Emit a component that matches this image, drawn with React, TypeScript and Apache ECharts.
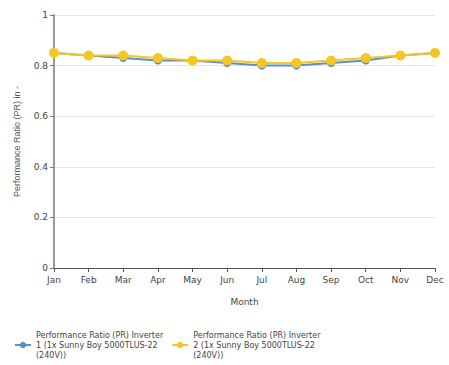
import React, { useEffect, useRef } from "react";
import * as echarts from "echarts";

const months = ["Jan", "Feb", "Mar", "Apr", "May", "Jun", "Jul", "Aug", "Sep", "Oct", "Nov", "Dec"];
const inverter1 = [0.85, 0.84, 0.83, 0.82, 0.82, 0.81, 0.8, 0.8, 0.81, 0.82, 0.84, 0.85];
const inverter2 = [0.85, 0.84, 0.84, 0.83, 0.82, 0.82, 0.81, 0.81, 0.82, 0.83, 0.84, 0.85];
const seriesNames = [
  "Performance Ratio (PR) Inverter\n1 (1x Sunny Boy 5000TLUS-22\n(240V))",
  "Performance Ratio (PR) Inverter\n2 (1x Sunny Boy 5000TLUS-22\n(240V))",
];

const FONT = "DejaVu Sans";

export default function App() {
  const ref = useRef<HTMLDivElement>(null);
  useEffect(() => {
    const chart = echarts.init(ref.current!, null, { renderer: "svg" });
    chart.setOption({
      animation: false,
      grid: { left: 54, right: 14, top: 15, bottom: 97 },
      legend: {
        left: 14,
        top: 330,
        padding: 0,
        itemWidth: 16,
        itemHeight: 8,
        itemGap: 8,
        textStyle: { fontFamily: FONT, fontSize: 8, color: "#444", lineHeight: 10 },
        data: seriesNames,
      },
      xAxis: {
        type: "category",
        data: months,
        boundaryGap: false,
        name: "Month",
        nameLocation: "middle",
        nameGap: 29,
        nameTextStyle: { fontFamily: FONT, fontSize: 9, color: "#444" },
        axisLine: { lineStyle: { color: "#555", width: 1 } },
        axisTick: { show: true, length: 4, alignWithLabel: true, lineStyle: { color: "#555" } },
        axisLabel: { fontFamily: FONT, fontSize: 9, color: "#444", margin: 7, interval: 0 },
      },
      yAxis: {
        type: "value",
        min: 0,
        max: 1,
        interval: 0.2,
        name: "Performance Ratio (PR) in -",
        nameLocation: "middle",
        nameGap: 33,
        nameTextStyle: { fontFamily: "Liberation Sans", fontSize: 9, color: "#555" },
        axisLine: { show: true, lineStyle: { color: "#999", width: 2 } },
        axisTick: { show: true, length: 4, lineStyle: { color: "#777" } },
        axisLabel: { fontFamily: FONT, fontSize: 9, color: "#444", margin: 6 },
        splitLine: { lineStyle: { color: "#e4e4e4" } },
      },
      series: [
        {
          name: seriesNames[0],
          type: "line",
          data: inverter1,
          symbol: "circle",
          symbolSize: 8,
          color: "#5b8fc7",
          lineStyle: { width: 2 },
        },
        {
          name: seriesNames[1],
          type: "line",
          data: inverter2,
          symbol: "circle",
          symbolSize: 10,
          color: "#f5c624",
          lineStyle: { width: 2 },
        },
      ],
    });
    return () => chart.dispose();
  }, []);
  return <div ref={ref} style={{ width: 449, height: 365, position: "absolute", left: 0, top: 0 }} />;
}
